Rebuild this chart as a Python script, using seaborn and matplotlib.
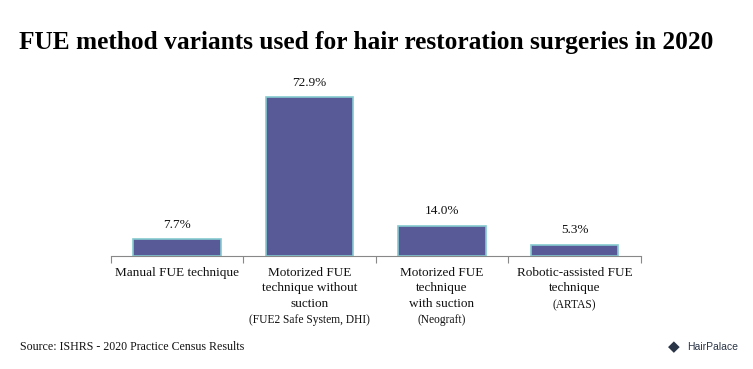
import numpy as np
import pandas as pd
import matplotlib
matplotlib.use("Agg")
import matplotlib.pyplot as plt
import seaborn as sns

# datos
categorias = ["Manual", "Motorized without suction", "Motorized with suction", "Robotic"]
valores = [7.7, 72.9, 14.0, 5.3]
etiquetas = [
    ["Manual FUE technique"],
    ["Motorized FUE", "technique without", "suction"],
    ["Motorized FUE", "technique", "with suction"],
    ["Robotic-assisted FUE", "technique"],
]
subetiquetas = ["", "(FUE2 Safe System, DHI)", "(Neograft)", "(ARTAS)"]

titulo = "FUE method variants used for hair restoration surgeries in 2020"
fuente = "Source: ISHRS - 2020 Practice Census Results"

sns.set_style("white")
plt.rcParams["font.family"] = ["Liberation Serif", "DejaVu Serif"]

df = pd.DataFrame({"categoria": categorias, "valor": valores})

fig = plt.figure(figsize=(7.53, 3.69), dpi=100)
ax = fig.add_axes([0.147, 0.306, 0.704, 0.472])

sns.barplot(data=df, x="categoria", y="valor", color="#585a97", width=0.66,
            edgecolor="#86cbd0", linewidth=1.2, saturation=1, ax=ax)

ax.set_ylim(0, 80)
ax.set_xlim(-0.5, len(categorias) - 0.5)
ax.set_xlabel("")
ax.set_ylabel("")
ax.set_yticks([])
ax.set_xticks(np.arange(-0.5, len(categorias)), labels=[""] * (len(categorias) + 1))
ax.tick_params(axis="x", direction="out", length=5, width=0.8, color="#888888", bottom=True)
for lado in ["left", "right", "top"]:
    ax.spines[lado].set_visible(False)
ax.spines["bottom"].set_color("#888888")
ax.spines["bottom"].set_linewidth(0.8)

# valores encima de las barras
for i, v in enumerate(valores):
    ax.annotate(f"{v:.1f}%", xy=(i, v), xytext=(0, 6), textcoords="offset points",
                ha="center", va="bottom", fontsize=9.5, color="#111111")

# etiquetas del eje x, con la parte entre parentesis mas pequena
for i, lineas in enumerate(etiquetas):
    for j, linea in enumerate(lineas):
        ax.annotate(linea, xy=(i, 0), xytext=(0, -8 - j * 11), textcoords="offset points",
                    ha="center", va="top", fontsize=9.5, color="#111111", annotation_clip=False)
    if subetiquetas[i]:
        ax.annotate(subetiquetas[i], xy=(i, 0), xytext=(0, -9 - len(lineas) * 11),
                    textcoords="offset points", ha="center", va="top", fontsize=8.3,
                    color="#111111", annotation_clip=False)

fig.text(0.486, 0.885, titulo, ha="center", va="center", fontsize=18.3, fontweight="bold", color="#000000")
fig.text(0.027, 0.06, fuente, ha="left", va="center", fontsize=8.6, color="#111111")

# logo HairPalace (aproximado)
fig.text(0.895, 0.06, "\u25C6", ha="center", va="center", fontsize=11, color="#2a3548",
         family=["DejaVu Sans"])
fig.text(0.912, 0.06, "HairPalace", ha="left", va="center", fontsize=7.5, color="#2a3548",
         family=["Liberation Sans"])

fig.savefig("out.png", dpi=100, facecolor="white")
